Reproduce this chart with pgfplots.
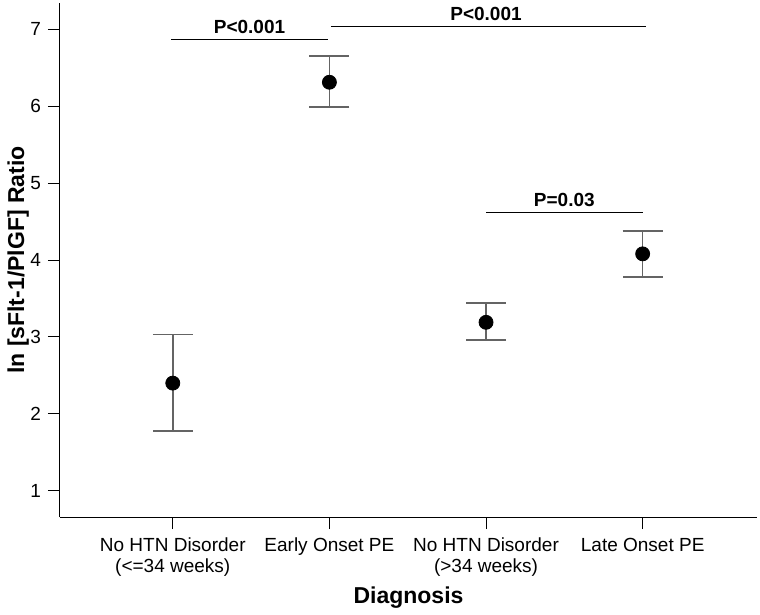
\documentclass[border=0pt]{standalone}
\usepackage{fontspec}
\setmainfont{Liberation Sans}
\usepackage{pgfplots}
\pgfplotsset{compat=1.18}
\definecolor{ebar}{RGB}{100,100,100}
\begin{document}
\begin{tikzpicture}
\begin{axis}[
  name=ax,
  scale only axis,
  width=348.5pt, height=257pt,
  xmin=-0.72, xmax=3.73,
  ymin=0.66, ymax=7.34,
  axis x line=bottom, axis y line=left,
  axis line style={-, line width=0.5pt, black},
  tick align=outside,
  major tick length=6pt,
  tick style={line width=0.5pt, black},
  xtick={0,1,2,3},
  xticklabels={{No HTN Disorder\\(<=34 weeks)},{Early Onset PE},{No HTN Disorder\\(>34 weeks)},{Late Onset PE}},
  xticklabel style={align=center, font=\fontsize{9.5}{10.5}\selectfont, yshift=-1pt},
  ytick={1,2,3,4,5,6,7},
  yticklabel style={font=\fontsize{9.5}{11}\selectfont},
  /pgf/number format/assume math mode=true,
  xlabel={Diagnosis},
  xlabel style={at={(axis description cs:0.5,-0.1673)}, anchor=base, font=\bfseries\fontsize{11.5}{13}\selectfont},
  ylabel={ln [sFlt-1/PlGF] Ratio},
  ylabel style={at={(axis description cs:-0.060,0.5)}, anchor=center, font=\bfseries\fontsize{11.5}{13}\selectfont},
  clip=false,
]
\addplot[only marks, mark=*, mark size=3.5pt, mark options={fill=black, draw=black},
  error bars/.cd, y dir=both, y explicit,
  error bar style={ebar, line width=0.8pt},
  error mark options={rotate=90, mark size=10pt, ebar, line width=0.8pt}]
  coordinates {
  (0,2.40) += (0,0.63) -= (0,0.62)
  (1,6.31) += (0,0.34) -= (0,0.32)
  (2,3.19) += (0,0.25) -= (0,0.23)
  (3,4.08) += (0,0.30) -= (0,0.30)
  };
% significance brackets
\addplot[black, line width=0.5pt, forget plot] coordinates {(-0.01,6.87) (0.99,6.87)};
\addplot[black, line width=0.5pt, forget plot] coordinates {(1.01,7.04) (3.02,7.04)};
\addplot[black, line width=0.5pt, forget plot] coordinates {(2.0,4.62) (3.0,4.62)};
\node[anchor=base, font=\bfseries\fontsize{9.5}{11}\selectfont, inner sep=0pt] at (axis cs:0.49,6.87) [yshift=3pt] {P<0.001};
\node[anchor=base, font=\bfseries\fontsize{9.5}{11}\selectfont, inner sep=0pt] at (axis cs:2.0,7.04) [yshift=3pt] {P<0.001};
\node[anchor=base, font=\bfseries\fontsize{9.5}{11}\selectfont, inner sep=0pt] at (axis cs:2.5,4.62) [yshift=3pt] {P=0.03};
\end{axis}
\pgfresetboundingbox
\path[use as bounding box] ([xshift=-30pt,yshift=-48.5pt]ax.south west) rectangle ([xshift=1.5pt,yshift=1.5pt]ax.north east);
\end{tikzpicture}
\end{document}
